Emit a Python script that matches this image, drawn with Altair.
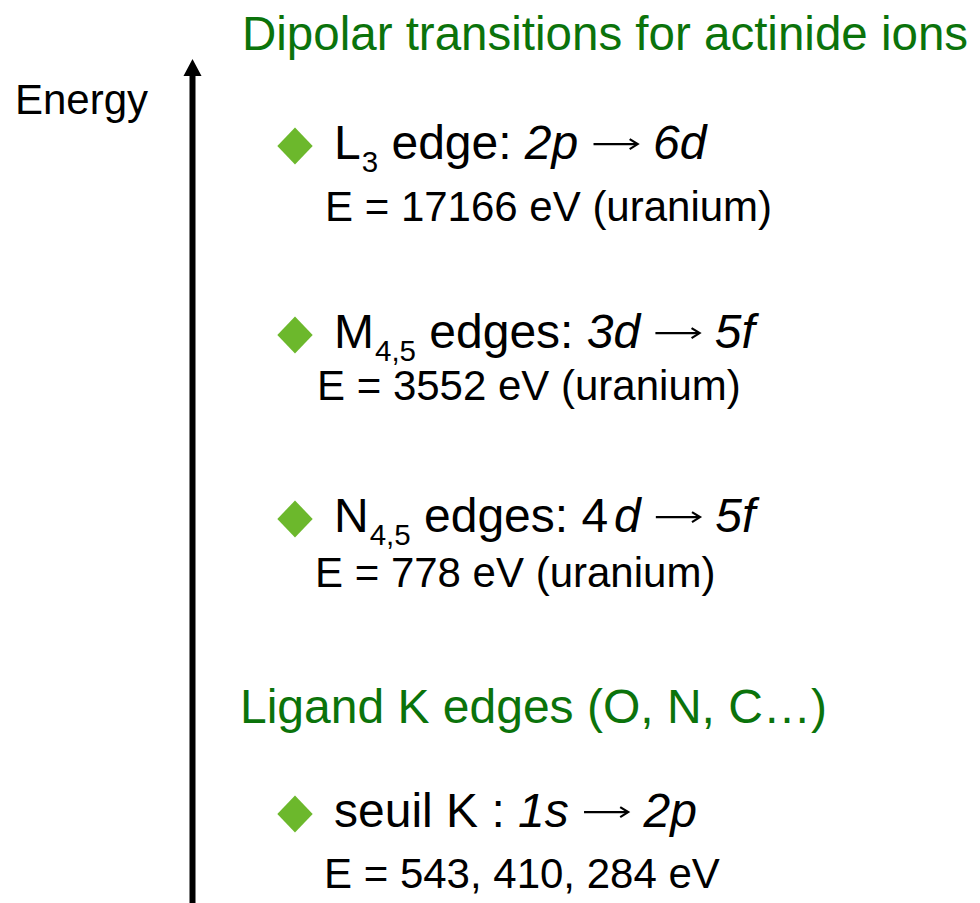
import altair as alt
import pandas as pd

FONT = "Liberation Sans"
GREEN = "#0b730b"
LIME = "#6cb82c"
BLACK = "#000000"

# ---- content -------------------------------------------------------------
title_text = "Dipolar transitions for actinide ions"
axis_label = "Energy"
ligand_header = "Ligand K edges (O, N, C\u2026)"

edge_names = ["L", "M", "N", "seuil K :"]
edge_subscripts = ["3", "4,5", "4,5", ""]
edge_words = ["edge:", "edges:", "edges:", ""]
initial_orbitals = ["2p", "3d", "4d", "1s"]
initial_digit_italic = [True, True, False, True]
final_orbitals = ["6d", "5f", "5f", "2p"]
energy_lines = [
    "E = 17166 eV (uranium)",
    "E = 3552 eV (uranium)",
    "E = 778 eV (uranium)",
    "E = 543, 410, 284 eV",
]

# ---- layout (page pixels) ------------------------------------------------
W, H = 964, 895
X0, Y0 = 8, 8
heading_baselines = [159, 348, 532, 827]
energy_baselines = [221, 400, 587, 888]
energy_x = [325, 317, 315, 324]
heading_x = 334
bullet_x = 295
big, small, sub = 48, 42, 29.5

# Arial / Liberation Sans advance widths (1/1000 em)
ADV = {" ": 278, ":": 278, ",": 278, "\u2192": 1000,
       "a": 556, "d": 556, "e": 556, "f": 278, "g": 556, "i": 222, "l": 222,
       "p": 556, "s": 500, "u": 556, "K": 667, "L": 556, "M": 833, "N": 722}


def width(txt, size):
    return sum(ADV.get(c, 556) for c in txt) * size / 1000.0


rows = []
shafts = []
heads = []


def add(x, y, text, size, style="normal", color=BLACK):
    rows.append(dict(x=x, y=y, text=text, size=size, style=style, color=color))


def add_arrow(x, yb, size, k):
    y = yb - 0.31 * size
    x1 = x + 0.04 * size
    x2 = x + 0.96 * size
    shafts.append(dict(x=x1, x2=x2 - 1, y=y))
    for j, (px, py) in enumerate([(x2 - 8, y - 5), (x2, y), (x2 - 8, y + 5)]):
        heads.append(dict(id=k, order=j, x=px, y=py))


add(242, 50, title_text, 47.5, color=GREEN)
add(15, 114, axis_label, small)
add(240, 723, ligand_header, big, color=GREEN)

for i in range(len(edge_names)):
    yb = heading_baselines[i]
    x = heading_x
    add(x, yb, edge_names[i], big)
    x += width(edge_names[i], big)
    if edge_subscripts[i]:
        x += 1
        add(x, yb + 13, edge_subscripts[i], sub)
        x += width(edge_subscripts[i], sub)
    x += width(" ", big)
    if edge_words[i]:
        add(x, yb, edge_words[i], big)
        x += width(edge_words[i] + " ", big)
    orb = initial_orbitals[i]
    if initial_digit_italic[i]:
        add(x, yb, orb, big, "italic")
        x += width(orb, big)
    else:
        add(x, yb, orb[0], big)
        x += width(orb[0], big) + 0.12 * big
        add(x, yb, orb[1:], big, "italic")
        x += width(orb[1:], big)
    x += width(" ", big)
    add_arrow(x, yb, big, i)
    x += width("\u2192 ", big)
    add(x, yb, final_orbitals[i], big, "italic")
    add(energy_x[i], energy_baselines[i], energy_lines[i], small)

texts = pd.DataFrame(rows)
shaft_df = pd.DataFrame(shafts)
head_df = pd.DataFrame(heads)
bullets = pd.DataFrame({"x": [bullet_x] * 4, "y": [b - 13 for b in heading_baselines]})
axis_shaft = pd.DataFrame({"x": [192.5], "y": [74], "y2": [903]})
axis_head = pd.DataFrame({"y": [59, 76], "x": [192.5, 183.5], "x2": [192.5, 201.5]})

xs = alt.Scale(domain=[X0, X0 + W], range=[0, W], nice=False, zero=False)
ys = alt.Scale(domain=[Y0, Y0 + H], range=[0, H], nice=False, zero=False)


def X(f="x"):
    return alt.X(f"{f}:Q", scale=xs, axis=None)


def Y(f="y"):
    return alt.Y(f"{f}:Q", scale=ys, axis=None)


base_text = alt.Chart(texts)
regular = base_text.transform_filter(alt.datum.style == "normal").mark_text(
    align="left", baseline="alphabetic", font=FONT, fontStyle="normal"
).encode(x=X(), y=Y(), text="text:N",
         size=alt.Size("size:Q", scale=None), color=alt.Color("color:N", scale=None))
italic = base_text.transform_filter(alt.datum.style == "italic").mark_text(
    align="left", baseline="alphabetic", font=FONT, fontStyle="italic"
).encode(x=X(), y=Y(), text="text:N",
         size=alt.Size("size:Q", scale=None), color=alt.Color("color:N", scale=None))

bullet_marks = alt.Chart(bullets).mark_point(
    shape="M0,-1.05L1,0L0,1.05L-1,0Z", filled=True, size=1250, opacity=1, color=LIME,
    strokeWidth=0
).encode(x=X(), y=Y())

arrow_shafts = alt.Chart(shaft_df).mark_rule(color=BLACK, strokeWidth=2.2).encode(
    x=X(), x2="x2:Q", y=Y())
arrow_heads = alt.Chart(head_df).mark_line(color=BLACK, strokeWidth=2.2).encode(
    x=X(), y=Y(), detail="id:N", order="order:Q")

shaft_mark = alt.Chart(axis_shaft).mark_rule(color=BLACK, strokeWidth=6, clip=True).encode(
    x=X(), y=Y(), y2="y2:Q")
head_mark = alt.Chart(axis_head).mark_area(orient="horizontal", color=BLACK, opacity=1).encode(
    y=Y(), x=X(), x2="x2:Q")

chart = alt.layer(shaft_mark, head_mark, bullet_marks, arrow_shafts, arrow_heads,
                  regular, italic).properties(
    width=W, height=H, padding=0, autosize=alt.AutoSizeParams(type="none")
).configure_view(stroke=None)

chart.save("out.html", embed_options={"renderer": "svg", "actions": False})
